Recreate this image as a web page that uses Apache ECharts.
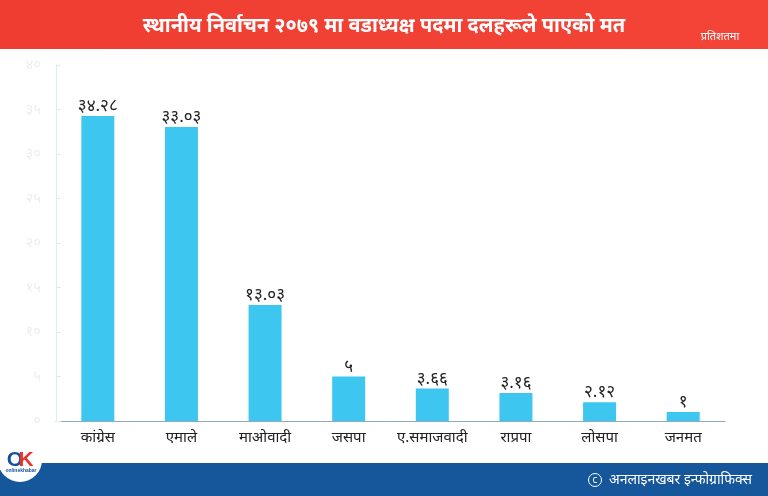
<!DOCTYPE html>
<html>
<head>
<meta charset="utf-8">
<style>
  html, body { margin: 0; padding: 0; background: #fff; }
  #chart { width: 768px; height: 496px; }
</style>
<script src="https://cdn.jsdelivr.net/npm/echarts@6/dist/echarts.min.js"></script>
</head>
<body>
<div id="chart"></div>
<script>
var FONT = '"Noto Sans", "DejaVu Sans", sans-serif'

var categories = ['कांग्रेस', 'एमाले', 'माओवादी', 'जसपा', 'ए.समाजवादी', 'राप्रपा', 'लोसपा', 'जनमत']
var values = [34.28, 33.03, 13.03, 5, 3.66, 3.16, 2.12, 1]
var valueLabels = ['३४.२८', '३३.०३', '१३.०३', '५', '३.६६', '३.१६', '२.१२', '१']
var tickLabels = ['०', '५', '१०', '१५', '२०', '२५', '३०', '३५', '४०']

var titleText = 'स्थानीय निर्वाचन २०७९ मा वडाध्यक्ष पदमा दलहरूले पाएको मत'
var unitText = 'प्रतिशतमा'
var creditText = 'अनलाइनखबर इन्फोग्राफिक्स'

var myChart = echarts.init(document.getElementById('chart'))

myChart.setOption({
  animation: false,
  backgroundColor: '#ffffff',
  grid: { left: 56, right: 43, top: 65, bottom: 75 },
  xAxis: {
    type: 'category',
    data: categories,
    axisLine: { lineStyle: { color: '#8faabf', width: 1 } },
    axisTick: { show: false },
    axisLabel: { color: '#222222', fontSize: 15, fontFamily: FONT, margin: 9, interval: 0 }
  },
  yAxis: {
    type: 'value',
    min: 0,
    max: 40,
    interval: 5,
    splitLine: { show: false },
    axisLine: { show: true, lineStyle: { color: '#e2eaf1', width: 1 } },
    axisTick: { show: true, inside: true, length: 5, lineStyle: { color: '#e2eaf1' } },
    axisLabel: {
      color: '#eceef1',
      fontSize: 15,
      fontFamily: FONT,
      margin: 15,
      formatter: function (v) { return tickLabels[v / 5] }
    }
  },
  series: [{
    type: 'bar',
    data: values,
    barWidth: 33,
    itemStyle: { color: '#3cc6f0' },
    label: {
      show: true,
      position: 'top',
      distance: 1,
      color: '#222222',
      fontSize: 17,
      fontFamily: FONT,
      formatter: function (p) { return valueLabels[p.dataIndex] }
    }
  }],
  graphic: [
    {
      type: 'rect',
      z: 5,
      shape: { x: 0, y: 0, width: 768, height: 49 },
      style: {
        fill: new echarts.graphic.LinearGradient(0, 0, 1, 0, [
          { offset: 0, color: '#ef3e31' },
          { offset: 1, color: '#f34437' }
        ])
      }
    },
    {
      type: 'rect',
      z: 5,
      shape: { x: 0, y: 463, width: 768, height: 33 },
      style: { fill: '#16579b' }
    },
    {
      type: 'circle',
      z: 6,
      shape: { cx: 20, cy: 460, r: 22 },
      style: { fill: '#ffffff' }
    },
    // logo
    {
      type: 'text',
      z: 7,
      x: 15,
      y: 460,
      style: {
        text: 'O',
        fill: '#17509a',
        font: '900 21px "Liberation Sans", sans-serif',
        align: 'center',
        verticalAlign: 'middle'
      }
    },
    {
      type: 'text',
      z: 7,
      x: 26,
      y: 460,
      style: {
        text: 'K',
        fill: '#e8342c',
        font: '900 21px "Liberation Sans", sans-serif',
        align: 'center',
        verticalAlign: 'middle'
      }
    },
    {
      type: 'text',
      z: 7,
      x: 21,
      y: 471,
      style: {
        text: 'onlinekhabar',
        fill: '#17509a',
        font: '700 5px "Liberation Sans", sans-serif',
        align: 'center',
        verticalAlign: 'middle'
      }
    },
    {
      type: 'text',
      z: 6,
      x: 384,
      y: 26,
      style: {
        text: titleText,
        fill: '#ffffff',
        font: '700 20px ' + FONT,
        align: 'center',
        verticalAlign: 'middle'
      }
    },
    {
      type: 'text',
      z: 6,
      x: 720,
      y: 37,
      style: {
        text: unitText,
        fill: '#ffffff',
        font: '11px ' + FONT,
        align: 'center',
        verticalAlign: 'middle'
      }
    },
    {
      type: 'circle',
      z: 6,
      shape: { cx: 595, cy: 480, r: 6.5 },
      style: { fill: 'none', stroke: '#ffffff', lineWidth: 1 }
    },
    {
      type: 'text',
      z: 6,
      x: 595,
      y: 480,
      style: {
        text: 'c',
        fill: '#ffffff',
        font: '10px ' + FONT,
        align: 'center',
        verticalAlign: 'middle'
      }
    },
    {
      type: 'text',
      z: 6,
      x: 752,
      y: 480,
      style: {
        text: creditText,
        fill: '#ffffff',
        font: '14px ' + FONT,
        align: 'right',
        verticalAlign: 'middle'
      }
    }
  ]
})
</script>
</body>
</html>
